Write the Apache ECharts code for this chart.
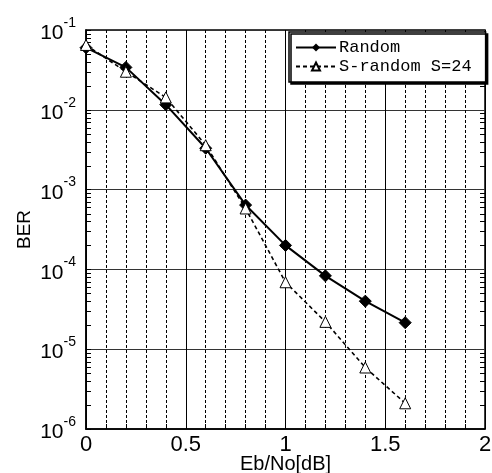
<!DOCTYPE html>
<html>
<head>
<meta charset="utf-8">
<script src="https://cdn.jsdelivr.net/npm/echarts@6/dist/echarts.min.js"></script>
<style>
html,body{margin:0;padding:0;background:#fff;}
#main{width:492px;height:473px;}
</style>
</head>
<body>
<div id="main"></div>
<script>
// ---- data ----
var ebNo = [0, 0.2, 0.4, 0.6, 0.8, 1.0, 1.2, 1.4, 1.6];
var berRandom = [0.060, 0.034, 0.0116, 0.0033, 0.00064, 0.0002, 8.3e-5, 4.0e-5, 2.15e-5];
var berSRandom = [0.065, 0.030, 0.0143, 0.0036, 0.00058, 6.9e-5, 2.2e-5, 5.9e-6, 2.1e-6];
var seriesNames = ['Random', 'S-random S=24'];
var xTickLabels = ['0', '0.5', '1', '1.5', '2'];
var yExponents = ['-6', '-5', '-4', '-3', '-2', '-1'];
var minorTickValues = [];
[-6, -5, -4, -3, -2].forEach(function (e) {
  [2, 3, 4, 5, 6, 7, 8, 9].forEach(function (m) { minorTickValues.push(m * Math.pow(10, e)); });
});

function pairs(xs, ys) { return xs.map(function (x, i) { return [x, ys[i]]; }); }

var chart = echarts.init(document.getElementById('main'), null, {renderer: 'canvas'});
var font = 'Liberation Sans, Arial, sans-serif';

var option = {
  backgroundColor: '#fff',
  animation: false,
  grid: {left: 86, right: 7, top: 30, bottom: 44, show: true, borderColor: '#000', borderWidth: 1.5,
         containLabel: false, outerBoundsMode: 'none'},
  legend: {
    orient: 'vertical',
    left: 289, top: 32,
    data: seriesNames,
    backgroundColor: '#fff',
    borderColor: '#000', borderWidth: 1.5,
    shadowColor: '#000', shadowBlur: 0, shadowOffsetX: 2, shadowOffsetY: 2,
    padding: [7, 14, 7, 6],
    itemGap: 2,
    itemWidth: 40, itemHeight: 10,
    textStyle: {fontFamily: 'Liberation Mono, monospace', fontSize: 17, color: '#000', padding: [0, 0, 0, -2]}
  },
  xAxis: {
    type: 'value', min: 0, max: 2, interval: 0.5,
    name: 'Eb/No[dB]', nameLocation: 'middle', nameGap: 25, nameMoveOverlap: false,
    nameTextStyle: {fontFamily: font, fontSize: 20, color: '#000'},
    axisLine: {lineStyle: {color: '#000', width: 1.5}},
    axisTick: {inside: true, length: 5, lineStyle: {color: '#000'}},
    minorTick: {show: true, splitNumber: 5, length: 5, lineStyle: {color: '#000'}},
    splitLine: {show: true, lineStyle: {color: '#000', width: 1}},
    minorSplitLine: {show: true, lineStyle: {color: '#000', width: 1, type: [3, 2]}},
    axisLabel: {
      fontFamily: font, fontSize: 22, color: '#000', margin: 5,
      formatter: function (v) { return xTickLabels[Math.round(v * 2)]; }
    }
  },
  yAxis: {
    type: 'log', logBase: 10, min: 1e-6, max: 1e-1,
    name: 'BER', nameLocation: 'middle', nameGap: 52, nameMoveOverlap: false,
    nameTextStyle: {fontFamily: font, fontSize: 19, color: '#000'},
    axisLine: {lineStyle: {color: '#000', width: 1.5}},
    axisTick: {inside: true, length: 5, lineStyle: {color: '#000'}},
    splitLine: {show: true, lineStyle: {color: '#333', width: 1}},
    axisLabel: {
      margin: 10,
      formatter: function (v) {
        var e = Math.round(Math.log10(v));
        return '{b|10}{s|' + yExponents[e + 6] + '}';
      },
      rich: {
        b: {fontFamily: font, fontSize: 21, color: '#000', lineHeight: 28, verticalAlign: 'bottom'},
        s: {fontFamily: font, fontSize: 14, color: '#000', lineHeight: 28, verticalAlign: 'top'}
      }
    }
  },
  series: [
    {
      name: seriesNames[0], type: 'line', data: pairs(ebNo, berRandom),
      symbol: 'diamond', symbolSize: 12, z: 3,
      lineStyle: {color: '#000', width: 2},
      itemStyle: {color: '#000', borderColor: '#000'}
    },
    {
      name: seriesNames[1], type: 'line', data: pairs(ebNo, berSRandom),
      symbol: 'triangle', symbolSize: 11, z: 4,
      lineStyle: {color: '#000', width: 1.6, type: [4, 3]},
      itemStyle: {color: '#fff', borderColor: '#000', borderWidth: 1}
    },
    {
      type: 'custom', silent: true, z: 2,
      data: minorTickValues.map(function (v) { return [0, v]; }),
      renderItem: function (params, api) {
        var p = api.coord([0, api.value(1)]);
        var cs = params.coordSys;
        var y = Math.round(p[1]) + 0.5;
        return {
          type: 'group',
          children: [
            {type: 'line', shape: {x1: cs.x, y1: y, x2: cs.x + 5, y2: y}, style: {stroke: '#000', lineWidth: 1}},
            {type: 'line', shape: {x1: cs.x + cs.width - 5, y1: y, x2: cs.x + cs.width, y2: y}, style: {stroke: '#000', lineWidth: 1}}
          ]
        };
      }
    }
  ]
};
chart.setOption(option);
</script>
</body>
</html>
